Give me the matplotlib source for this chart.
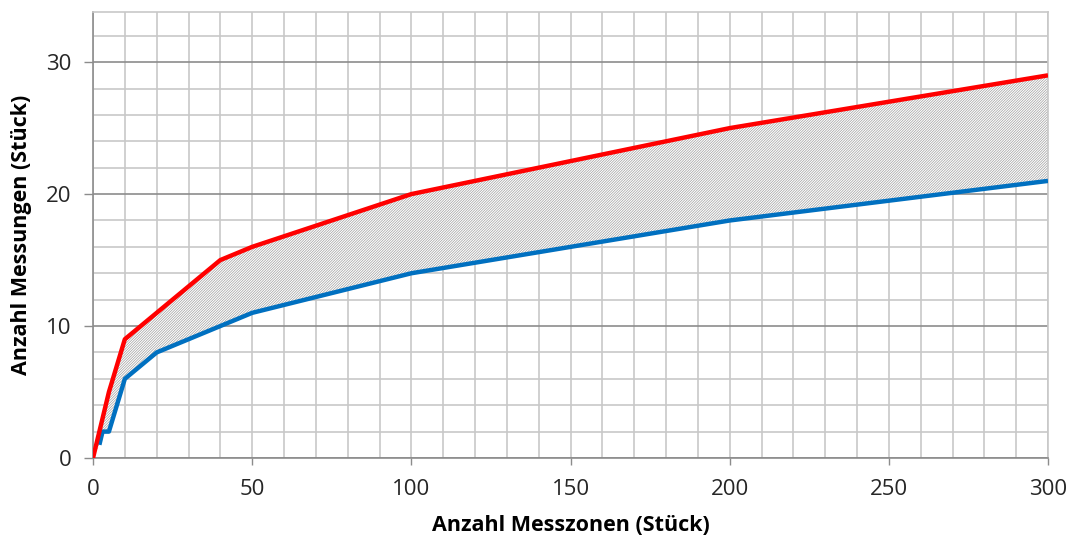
import numpy as np
import matplotlib
matplotlib.use("Agg")
from matplotlib import pyplot as plt

plt.rcParams['font.family'] = ['Open Sans', 'DejaVu Sans']
plt.rcParams['hatch.linewidth'] = 0.5
plt.rcParams['hatch.color'] = '#a0a0a0'

# upper curve (red)
red_x = [0, 3, 5, 10, 20, 40, 50, 100, 200, 300]
red_y = [0, 3, 5, 9, 11, 15, 16, 20, 25, 29]
# lower curve (blue)
blue_x = [2, 3, 5, 10, 20, 40, 50, 100, 200, 300]
blue_y = [1, 2, 2, 6, 8, 10, 11, 14, 18, 21]

x_ticks = [0, 50, 100, 150, 200, 250, 300]
y_ticks = [0, 10, 20, 30]

fig = plt.figure(figsize=(10.71, 5.38), dpi=100)
ax = fig.add_axes([93 / 1071, 1 - 458 / 538, (1048 - 93) / 1071, (458 - 12) / 538])

# hatched area between the curves (white background hides grid)
poly_x = np.concatenate([red_x, blue_x[::-1]])
poly_y = np.concatenate([red_y, blue_y[::-1]])
ax.fill(poly_x, poly_y, facecolor='white', hatch='/' * 13, linewidth=0, zorder=2)

ax.plot(red_x, red_y, color='#ff0000', linewidth=3.2, zorder=4, solid_capstyle='butt')
ax.plot(blue_x, blue_y, color='#0070c0', linewidth=3.2, zorder=3, solid_capstyle='butt')

ax.set_xlim(0, 300)
ax.set_ylim(0, 33.8)

# grid
ax.set_xticks(np.arange(0, 301, 10), minor=True)
ax.set_yticks(np.arange(0, 34, 2), minor=True)
ax.set_xticks(x_ticks)
ax.set_yticks(y_ticks)
ax.grid(which='minor', color='#c8c8c8', linewidth=1.2, zorder=0)
ax.grid(which='major', axis='y', color='#8c8c8c', linewidth=1.2, zorder=1)
ax.grid(which='major', axis='x', color='#c8c8c8', linewidth=1.2, zorder=1)
ax.set_axisbelow(True)

ax.tick_params(which='minor', length=0)
ax.tick_params(which='major', width=1, color='#8c8c8c',
               labelsize=16, labelcolor='#262626')
ax.tick_params(axis='x', which='major', length=5, pad=10)
ax.tick_params(axis='y', which='major', length=6.5, pad=9)

for s in ['top', 'right']:
    ax.spines[s].set_color('#c8c8c8')
for s in ['left', 'bottom']:
    ax.spines[s].set_color('#8c8c8c')
for s in ax.spines.values():
    s.set_linewidth(1.2)

ax.set_xlabel('Anzahl Messzonen (Stück)', fontsize=15.5, fontweight='bold', labelpad=11)
ax.set_ylabel('Anzahl Messungen (Stück)', fontsize=15.5, fontweight='bold', labelpad=10)

fig.savefig('out.png', dpi=100)
